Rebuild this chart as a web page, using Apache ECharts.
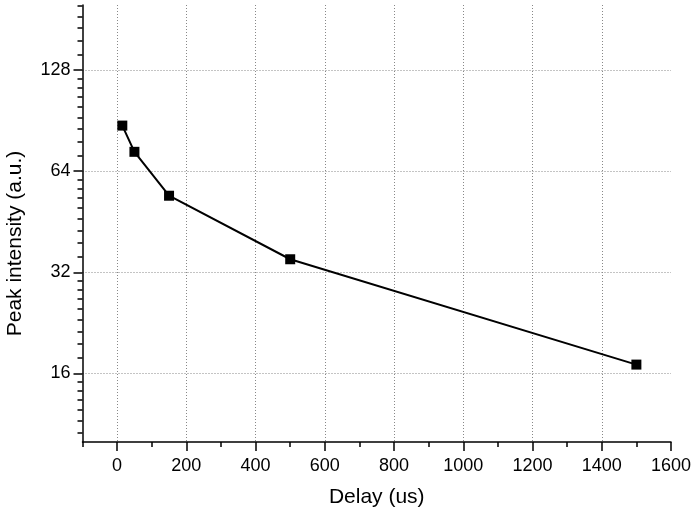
<!DOCTYPE html>
<html>
<head>
<meta charset="utf-8">
<script src="https://cdn.jsdelivr.net/npm/echarts@6/dist/echarts.min.js"></script>
<style>
  html, body { margin: 0; padding: 0; background: #fff; }
  #chart { width: 693px; height: 513px; }
</style>
</head>
<body>
<div id="chart"></div>
<script>
// data
const delays = [15, 50, 150, 500, 1500];
const intensity = [87.5, 73.1, 54.1, 35.0, 17.0];

// axis labels / ticks
const xMajor = [0, 200, 400, 600, 800, 1000, 1200, 1400, 1600];
const xMinor = [-100, 100, 300, 500, 700, 900, 1100, 1300, 1500];
const xGrid = [0, 200, 400, 600, 800, 1000, 1200, 1400];
const yMajor = [16, 32, 64, 128];

const yMin = 10, yMax = 200;

// minor ticks on the log2 axis are linear steps (9 per octave)
const yMinor = [];
[8, 16, 32, 64, 128].forEach(b => {
  for (let k = 1; k < 9; k++) {
    const v = b + k * b / 9;
    if (v >= yMin && v <= yMax) yMinor.push(v);
  }
});

const font = '"Liberation Sans", Arial, sans-serif';
const black = '#000';

const chart = echarts.init(document.getElementById('chart'));

const baseY = {
  type: 'log',
  logBase: 2,
  min: yMin,
  max: yMax,
  position: 'left'
};
const baseX = {
  type: 'value',
  min: -100,
  max: 1600,
  position: 'bottom'
};

const option = {
  animation: false,
  backgroundColor: '#fff',
  grid: {
    left: 82.5,
    right: 22,
    top: 5,
    bottom: 71,
    outerBoundsMode: 'none',
    containLabel: false
  },
  xAxis: [
    Object.assign({}, baseX, {
      name: 'Delay (us)',
      nameLocation: 'middle',
      nameGap: 45,
      nameTextStyle: { color: black, fontSize: 21, fontFamily: font },
      axisLine: { show: true, onZero: false, lineStyle: { color: black, width: 1.5 } },
      axisTick: { show: true, inside: false, length: 9, customValues: xMajor, lineStyle: { color: black, width: 1.5 } },
      axisLabel: {
        color: black, fontSize: 18, fontFamily: font, margin: 15, customValues: xMajor,
        formatter: v => String(v)
      },
      splitLine: { show: false }
    }),
    Object.assign({}, baseX, {
      axisLine: { show: false, onZero: false },
      axisTick: { show: true, inside: false, length: 5, customValues: xMinor, lineStyle: { color: black, width: 1.5 } },
      axisLabel: { show: false },
      splitLine: { show: false }
    }),
    Object.assign({}, baseX, {
      axisLine: { show: false, onZero: false },
      axisTick: { show: false, customValues: xGrid },
      axisLabel: { show: false },
      splitLine: { show: true, lineStyle: { color: '#888', width: 1, type: [1, 2] } }
    })
  ],
  yAxis: [
    Object.assign({}, baseY, {
      name: 'Peak intensity (a.u.)',
      nameLocation: 'middle',
      nameGap: 57,
      nameRotate: 90,
      nameTextStyle: { color: black, fontSize: 21, fontFamily: font, padding: [0, 40, 0, 0] },
      axisLine: { show: true, onZero: false, lineStyle: { color: black, width: 1.5 } },
      axisTick: { show: true, inside: false, length: 9, customValues: yMajor, lineStyle: { color: black, width: 1.5 } },
      axisLabel: {
        color: black, fontSize: 18, fontFamily: font, margin: 12, customValues: yMajor,
        formatter: v => String(Math.round(v))
      },
      splitLine: { show: true, lineStyle: { color: '#888', width: 1, type: [1, 2] } }
    }),
    Object.assign({}, baseY, {
      offset: 0,
      axisLine: { show: false, onZero: false },
      axisTick: { show: true, inside: false, length: 5, customValues: yMinor, lineStyle: { color: black, width: 1.5 } },
      axisLabel: { show: false },
      splitLine: { show: false }
    })
  ],
  series: [
    {
      type: 'line',
      xAxisIndex: 0,
      yAxisIndex: 0,
      data: delays.map((d, i) => [d, intensity[i]]),
      symbol: 'rect',
      symbolSize: 10,
      showSymbol: true,
      itemStyle: { color: black },
      lineStyle: { color: black, width: 2 },
      z: 5
    }
  ]
};

chart.setOption(option);
</script>
</body>
</html>
